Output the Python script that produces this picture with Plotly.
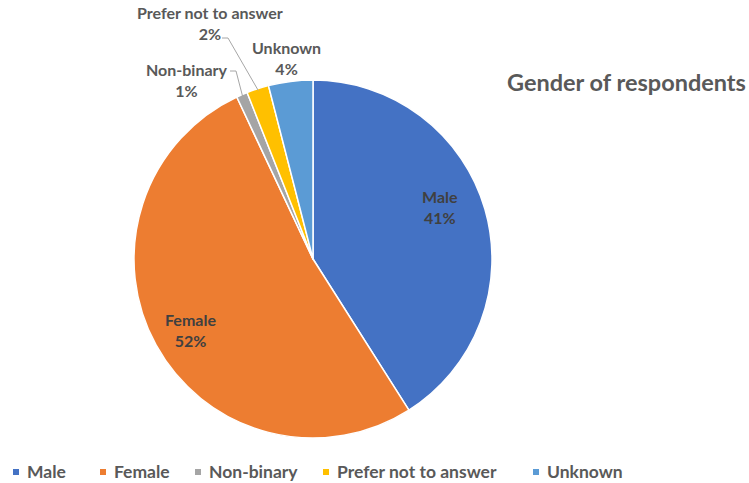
import math
import plotly.graph_objects as go

# Survey breakdown
labels = ["Male", "Female", "Non-binary", "Prefer not to answer", "Unknown"]
values = [41, 52, 1, 2, 4]
colors = ["#4472C4", "#ED7D31", "#A5A5A5", "#FFC000", "#5B9BD5"]

W, H = 749, 483
CX, CY, R = 313, 259, 179  # pie centre and radius in pixels

# label placement (pixel coords) and whether a leader line is drawn
label_pos = {
    "Male": (440, 207, False),
    "Female": (190, 330, False),
    "Non-binary": (187, 80, True),
    "Prefer not to answer": (210, 23, True),
    "Unknown": (286, 58, False),
}
# elbow start of leader lines (pixel coords)
leader_start = {
    "Non-binary": (230, 71),
    "Prefer not to answer": (222, 38),
}
legend_x = [13, 100, 195, 323, 533]

TEXT = "#595959"
FONT = "Lato"


def px(x):
    return x / W


def py(y):
    return 1 - y / H


fig = go.Figure(
    go.Pie(
        labels=labels,
        values=values,
        sort=False,
        direction="clockwise",
        rotation=0,
        marker=dict(colors=colors, line=dict(color="white", width=1.5)),
        textinfo="none",
        hoverinfo="label+percent",
        domain=dict(x=[px(CX - R), px(CX + R)], y=[py(CY + R), py(CY - R)]),
        showlegend=False,
    )
)

annotations = []
shapes = []
total = sum(values)
start = 0.0
for lab, val, col in zip(labels, values, colors):
    frac = val / total
    mid = (start + frac / 2) * 2 * math.pi
    start += frac
    lx, ly, leader = label_pos[lab]
    annotations.append(dict(
        x=px(lx), y=py(ly), xref="paper", yref="paper",
        text=f"{lab}<br>{round(frac * 100)}%", showarrow=False,
        font=dict(family=FONT, size=16, color="#404040" if lab in ("Male", "Female") else TEXT, weight="bold"),
        align="center", xanchor="center", yanchor="middle",
    ))
    if leader:
        ex = CX + R * 0.99 * math.sin(mid)
        ey = CY - R * 0.99 * math.cos(mid)
        sx, sy = leader_start[lab]
        elbow_x = sx + 6
        shapes.append(dict(
            type="path", xref="paper", yref="paper",
            path=f"M {px(sx)} {py(sy)} L {px(elbow_x)} {py(sy)} L {px(ex)} {py(ey)}",
            line=dict(color="#A6A6A6", width=1),
        ))

# legend drawn as coloured squares plus text
for lab, col, x0 in zip(labels, colors, legend_x):
    shapes.append(dict(
        type="rect", xref="paper", yref="paper",
        x0=px(x0), x1=px(x0 + 6), y0=py(475), y1=py(469),
        fillcolor=col, line=dict(width=0),
    ))
    annotations.append(dict(
        x=px(x0 + 12), y=py(471), xref="paper", yref="paper",
        text=lab, showarrow=False, xanchor="left", yanchor="middle",
        font=dict(family=FONT, size=17.5, color=TEXT, weight="bold"),
    ))

annotations.append(dict(
    x=px(748), y=py(82), xref="paper", yref="paper",
    text="Gender of respondents", showarrow=False, xanchor="right", yanchor="middle",
    font=dict(family=FONT, size=23.5, color=TEXT, weight="bold"),
))

fig.update_layout(
    width=W, height=H,
    margin=dict(l=0, r=0, t=0, b=0),
    paper_bgcolor="white", plot_bgcolor="white",
    annotations=annotations, shapes=shapes,
)

fig.write_html("out.html")
